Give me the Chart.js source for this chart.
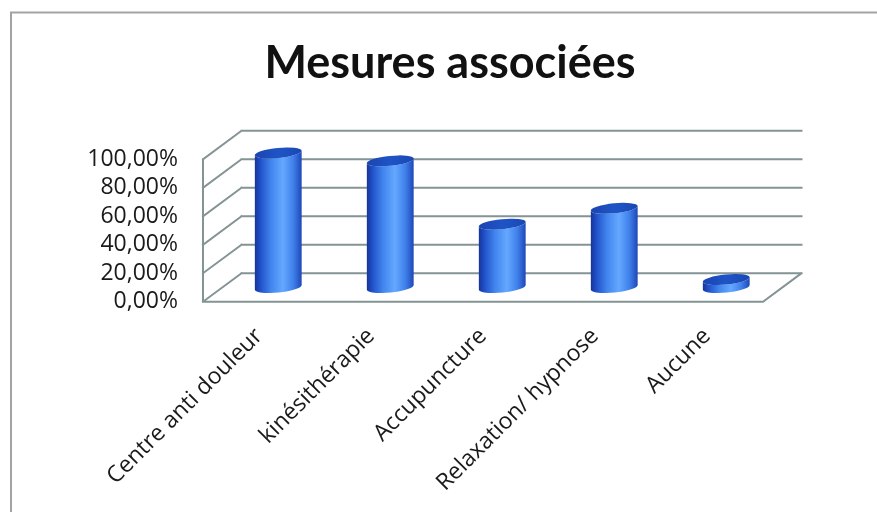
<!DOCTYPE html>
<html>
<head>
<meta charset="utf-8">
<script src="https://cdn.jsdelivr.net/npm/chart.js@4/dist/chart.umd.min.js"></script>
<style>
  html, body { margin: 0; padding: 0; background: #ffffff; }
  #wrap { width: 877px; height: 512px; position: relative; }
</style>
</head>
<body>
<div id="wrap"><canvas id="c" width="877" height="512"></canvas></div>
<script>
// ---- data ----
const categories = ['Centre anti douleur', 'kinésithérapie', 'Accupuncture', 'Relaxation/ hypnose', 'Aucune'];
const values = [0.9444, 0.8889, 0.4444, 0.5556, 0.0556];
const yTickValues = [0, 0.2, 0.4, 0.6, 0.8, 1.0];
const yTickLabels = ['0,00%', '20,00%', '40,00%', '60,00%', '80,00%', '100,00%'];
const chartTitle = 'Mesures associées';

// ---- 3D look ----
const DX = 38.5, DY = 28.5;
const GRID = '#849494';

const frame = {
  id: 'frame',
  beforeDraw(chart) {
    const ctx = chart.ctx;
    ctx.save();
    ctx.fillStyle = '#ffffff';
    ctx.fillRect(0, 0, chart.width, chart.height);
    ctx.strokeStyle = '#a3a3a3';
    ctx.lineWidth = 2;
    ctx.beginPath();
    ctx.moveTo(11, chart.height + 5);
    ctx.lineTo(11, 12.5);
    ctx.lineTo(chart.width + 5, 12.5);
    ctx.stroke();
    ctx.restore();
  }
};

const walls = {
  id: 'walls',
  beforeDatasetsDraw(chart) {
    const ctx = chart.ctx;
    const xs = chart.scales.x, ys = chart.scales.y;
    const L = xs.left, R = xs.right;
    const y0 = ys.getPixelForValue(0);
    const yTop = ys.getPixelForValue(ys.max);
    ctx.save();
    ctx.strokeStyle = GRID;
    ctx.lineWidth = 2;
    ctx.lineCap = 'square';
    ctx.beginPath();
    yTickValues.forEach(v => {
      const y = ys.getPixelForValue(v);
      ctx.moveTo(L + DX, y - DY);
      ctx.lineTo(R + DX, y - DY);
      ctx.moveTo(L, y);
      ctx.lineTo(L + DX, y - DY);
    });
    ctx.moveTo(L, yTop);
    ctx.lineTo(L, y0);
    ctx.lineTo(R, y0);
    ctx.lineTo(R + DX, y0 - DY);
    ctx.stroke();
    ctx.restore();
  }
};

const cylinders = {
  id: 'cylinders',
  afterDatasetsDraw(chart) {
    const ctx = chart.ctx;
    const meta = chart.getDatasetMeta(0);
    const rot = -0.1;
    meta.data.forEach(el => {
      const p = el.getProps(['x', 'y', 'base', 'width'], true);
      const cx = p.x + DX / 2;
      const yt = p.y - DY / 2;
      const yb = p.base - DY / 2;
      const rx = p.width / 2;
      const ry = 5;
      const cr = Math.cos(rot) * rx, sr = Math.sin(rot) * rx;
      const g = ctx.createLinearGradient(cx - rx, 0, cx + rx, 0);
      g.addColorStop(0, '#15349a');
      g.addColorStop(0.12, '#2250c8');
      g.addColorStop(0.35, '#4286ee');
      g.addColorStop(0.6, '#64a8ff');
      g.addColorStop(0.82, '#4080ea');
      g.addColorStop(1, '#1d47b8');
      ctx.save();
      ctx.beginPath();
      ctx.moveTo(cx - cr, yt - sr);
      ctx.lineTo(cx - cr, yb - sr);
      ctx.ellipse(cx, yb, rx, ry, rot, Math.PI, 0, true);
      ctx.lineTo(cx + cr, yt + sr);
      ctx.ellipse(cx, yt, rx, ry, rot, 0, Math.PI, false);
      ctx.closePath();
      ctx.fillStyle = g;
      ctx.fill();
      const gt = ctx.createLinearGradient(cx - rx, yt, cx + rx, yt);
      gt.addColorStop(0, '#1a45b0');
      gt.addColorStop(0.5, '#1f54c6');
      gt.addColorStop(1, '#1a48b5');
      ctx.beginPath();
      ctx.ellipse(cx, yt, rx, ry, rot, 0, Math.PI * 2);
      ctx.fillStyle = gt;
      ctx.fill();
      ctx.restore();
    });
  }
};

Chart.defaults.font.family = '"Open Sans", sans-serif';
Chart.defaults.color = '#1a1a1a';

new Chart(document.getElementById('c'), {
  type: 'bar',
  data: {
    labels: categories,
    datasets: [{
      data: values,
      backgroundColor: 'rgba(0,0,0,0)',
      borderWidth: 0,
      barPercentage: 0.42,
      categoryPercentage: 1.0
    }]
  },
  options: {
    responsive: false,
    animation: false,
    devicePixelRatio: 1,
    layout: { padding: { left: 23, right: 0, top: 0, bottom: 0 } },
    plugins: {
      legend: { display: false },
      tooltip: { enabled: false },
      title: {
        display: true,
        text: chartTitle,
        color: '#111111',
        font: { family: 'Lato, "Open Sans", sans-serif', size: 45, weight: 'bold', lineHeight: 1.2 },
        padding: { top: 36, bottom: 69.3 }
      }
    },
    scales: {
      x: {
        grid: { display: false, drawTicks: false },
        border: { display: false },
        ticks: { minRotation: 45, maxRotation: 45, autoSkip: false, padding: 21, font: { size: 23 }, color: '#1a1a1a' },
        afterFit(s) { s.height = 512 - 301.7; }
      },
      y: {
        min: 0, max: 1,
        grid: { display: false, drawTicks: false },
        border: { display: false },
        afterBuildTicks(s) { s.ticks = yTickValues.map(v => ({ value: v })); },
        ticks: {
          autoSkip: false,
          padding: 25,
          font: { size: 23 },
          color: '#1a1a1a',
          callback: (v) => yTickLabels[yTickValues.findIndex(t => Math.abs(t - v) < 1e-9)]
        },
        afterFit(s) { s.width = 180; }
      },
      yRight: {
        type: 'linear',
        position: 'right',
        display: true,
        min: 0, max: 1,
        grid: { display: false, drawTicks: false },
        border: { display: false },
        ticks: { display: false },
        afterFit(s) { s.width = 114; }
      }
    }
  },
  plugins: [frame, walls, cylinders]
});
</script>
</body>
</html>
